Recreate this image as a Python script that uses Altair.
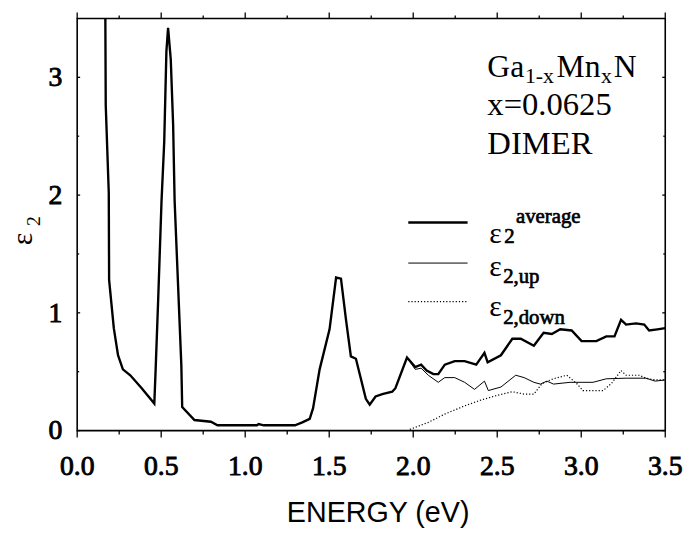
import altair as alt
import pandas as pd

# ---------------- data ----------------
avg_E = [0.166, 0.170, 0.188, 0.190, 0.218, 0.243, 0.272, 0.316, 0.384, 0.459,
         0.467, 0.482, 0.502, 0.518, 0.531, 0.541, 0.557, 0.571, 0.580, 0.600,
         0.620, 0.625, 0.698, 0.796, 0.835, 1.070, 1.080, 1.110, 1.296, 1.340,
         1.384, 1.404, 1.443, 1.502, 1.541, 1.570, 1.600, 1.629, 1.659, 1.718,
         1.741, 1.776, 1.816, 1.875, 1.894, 1.963, 2.012, 2.047, 2.080, 2.120,
         2.149, 2.188, 2.247, 2.306, 2.375, 2.424, 2.443, 2.522, 2.590, 2.640,
         2.718, 2.776, 2.825, 2.875, 2.943, 3.002, 3.090, 3.149, 3.198, 3.237,
         3.267, 3.326, 3.375, 3.404, 3.453, 3.500]
avg_V = [4.00, 2.76, 2.02, 1.28, 0.87, 0.64, 0.52, 0.47, 0.36, 0.23,
         0.52, 1.11, 1.95, 2.45, 3.22, 3.42, 3.15, 2.60, 1.95, 1.25,
         0.55, 0.20, 0.09, 0.075, 0.045, 0.045, 0.055, 0.045, 0.045, 0.07,
         0.10, 0.19, 0.52, 0.86, 1.30, 1.29, 0.94, 0.63, 0.61, 0.27,
         0.22, 0.29, 0.31, 0.33, 0.36, 0.62, 0.54, 0.56, 0.51, 0.48,
         0.48, 0.56, 0.59, 0.59, 0.56, 0.66, 0.58, 0.64, 0.78, 0.78,
         0.72, 0.83, 0.82, 0.86, 0.85, 0.76, 0.76, 0.80, 0.80, 0.94,
         0.90, 0.91, 0.90, 0.85, 0.86, 0.87]

up_E = [1.963, 2.012, 2.047, 2.090, 2.149, 2.188, 2.247, 2.306, 2.365, 2.424,
        2.447, 2.522, 2.610, 2.660, 2.718, 2.757, 2.796, 2.835, 2.933, 3.010,
        3.070, 3.149, 3.267, 3.385, 3.440, 3.500]
up_V = [0.62, 0.52, 0.53, 0.47, 0.41, 0.45, 0.45, 0.41, 0.35, 0.42,
        0.34, 0.37, 0.47, 0.45, 0.41, 0.395, 0.42, 0.395, 0.41, 0.41,
        0.41, 0.44, 0.445, 0.445, 0.42, 0.43]

down_E = [1.980, 2.090, 2.188, 2.306, 2.404, 2.502, 2.590, 2.660, 2.718, 2.767,
          2.835, 2.914, 2.973, 3.010, 3.130, 3.180, 3.237, 3.267, 3.345, 3.385,
          3.440, 3.500]
down_V = [0.01, 0.07, 0.14, 0.21, 0.26, 0.30, 0.33, 0.31, 0.31, 0.40,
          0.44, 0.47, 0.40, 0.34, 0.34, 0.40, 0.51, 0.47, 0.47, 0.445,
          0.43, 0.43]

x_labels = [0.0, 0.5, 1.0, 1.5, 2.0, 2.5, 3.0, 3.5]
x_minor = [0.25, 0.75, 1.25, 1.75, 2.25, 2.75, 3.25]
y_labels = [0, 1, 2, 3]
y_minor = [0.5, 1.5, 2.5]

W, H = 595, 417
SERIF = "Liberation Serif"
SANS = "Liberation Sans"

xs = alt.Scale(domain=[0, 3.5], nice=False, zero=False)
ys = alt.Scale(domain=[0, 3.5], nice=False, zero=False)

avg_df = pd.DataFrame({"E": avg_E, "v": avg_V})
up_df = pd.DataFrame({"E": up_E, "v": up_V})
down_df = pd.DataFrame({"E": down_E, "v": down_V})

xaxis = alt.Axis(labels=False, ticks=False, domain=False, grid=False,
                 title="ENERGY (eV)", titleFont=SANS,
                 titleFontSize=29, titleFontWeight="normal", titleColor="black",
                 titleX=304, titleY=92, titleBaseline="alphabetic", titleAlign="center")
yaxis = alt.Axis(labels=False, ticks=False, domain=False, grid=False, title=None)

base_avg = alt.Chart(avg_df).mark_line(color="black", strokeWidth=2.4, clip=True).encode(
    x=alt.X("E:Q", scale=xs, axis=xaxis),
    y=alt.Y("v:Q", scale=ys, axis=yaxis),
)
line_up = alt.Chart(up_df).mark_line(color="black", strokeWidth=1, clip=True).encode(
    x=alt.X("E:Q", scale=xs), y=alt.Y("v:Q", scale=ys))
line_down = alt.Chart(down_df).mark_line(color="black", strokeWidth=1.2,
                                         strokeDash=[1.2, 2], clip=True).encode(
    x=alt.X("E:Q", scale=xs), y=alt.Y("v:Q", scale=ys))

# ---------------- ticks ----------------
def xticks(vals, y0, y1):
    return alt.Chart(pd.DataFrame({"t": vals})).mark_rule(color="black", strokeWidth=1.3).encode(
        x=alt.X("t:Q", scale=xs), y=alt.value(y0), y2=alt.value(y1))

def yticks(vals, x0, x1):
    return alt.Chart(pd.DataFrame({"t": vals})).mark_rule(color="black", strokeWidth=1.3).encode(
        y=alt.Y("t:Q", scale=ys), x=alt.value(x0), x2=alt.value(x1))

ticks = [
    xticks(x_labels, H, H + 7), xticks(x_minor, H, H + 4),
    xticks(x_labels, 0, -6), xticks(x_minor, 0, -3),
    yticks(y_labels, 0, 3), yticks(y_minor, 0, 2),
    yticks(y_labels, W, W - 3), yticks(y_minor, W, W - 2),
]

# tick labels (bold serif emulated with a thin stroke)
xlab_df = pd.DataFrame({"t": x_labels, "s": [f"{v:.1f}" for v in x_labels]})
ylab_df = pd.DataFrame({"t": y_labels, "s": [str(v) for v in y_labels]})
xlab = alt.Chart(xlab_df).mark_text(font=SERIF, fontSize=28, color="black", stroke="black",
                                    strokeWidth=0.9, align="center", baseline="alphabetic").encode(
    x=alt.X("t:Q", scale=xs), y=alt.value(H + 44.5), text="s:N")
ylab = alt.Chart(ylab_df).mark_text(font=SERIF, fontSize=28, color="black", stroke="black",
                                    strokeWidth=0.9, align="right", baseline="middle", dy=1).encode(
    y=alt.Y("t:Q", scale=ys), x=alt.value(-15), text="s:N")

# ---------------- text annotations ----------------
def txt(s, x, y, size, bold=False, font=SERIF, angle=0):
    kw = dict(text=s, font=font, fontSize=size, color="black",
              align="left", baseline="alphabetic")
    if bold:
        kw["stroke"] = "black"
        kw["strokeWidth"] = 0.7
    if angle:
        kw["angle"] = angle
    return alt.Chart(pd.DataFrame({"a": [0]})).mark_text(**kw).encode(
        x=alt.value(x), y=alt.value(y))

texts = [
    txt("Ga", 415, 59.5, 32), txt("1-x", 453, 65, 22), txt("Mn", 485, 59.5, 32),
    txt("x", 530, 65, 22), txt("N", 543, 59.5, 32),
    txt("x=0.0625", 415, 97.5, 33),
    txt("DIMER", 415, 137.5, 33),
    # legend
    txt("ε", 417, 227.5, 30), txt("2", 432, 227, 21, True), txt("average", 444, 207, 21, True),
    txt("ε", 417, 261, 30), txt("2,up", 431, 268, 21, True),
    txt("ε", 417, 301, 30), txt("2,down", 431, 309.5, 21, True),
    # y axis title
    txt("ε", -46, 229.5, 30, angle=270), txt("2", -38, 210, 20, angle=270),
]

def leg_line(y, sw, dash=None):
    kw = dict(color="black", strokeWidth=sw)
    if dash:
        kw["strokeDash"] = dash
    return alt.Chart(pd.DataFrame({"a": [0]})).mark_rule(**kw).encode(
        x=alt.value(335), x2=alt.value(395), y=alt.value(y))

legend = [leg_line(206.5, 2.4), leg_line(247.5, 1), leg_line(286.5, 1.2, [1.2, 2])]

chart = alt.layer(base_avg, line_up, line_down, *ticks, xlab, ylab, *legend, *texts).properties(
    width=W, height=H,
    autosize=alt.AutoSizeParams(type="none"),
    padding={"left": 70, "top": 7.5, "right": 21, "bottom": 97.5},
    background="white",
).configure_view(stroke="black", strokeWidth=1.6)

chart.save("out.html", embed_options={"renderer": "svg", "actions": False})
